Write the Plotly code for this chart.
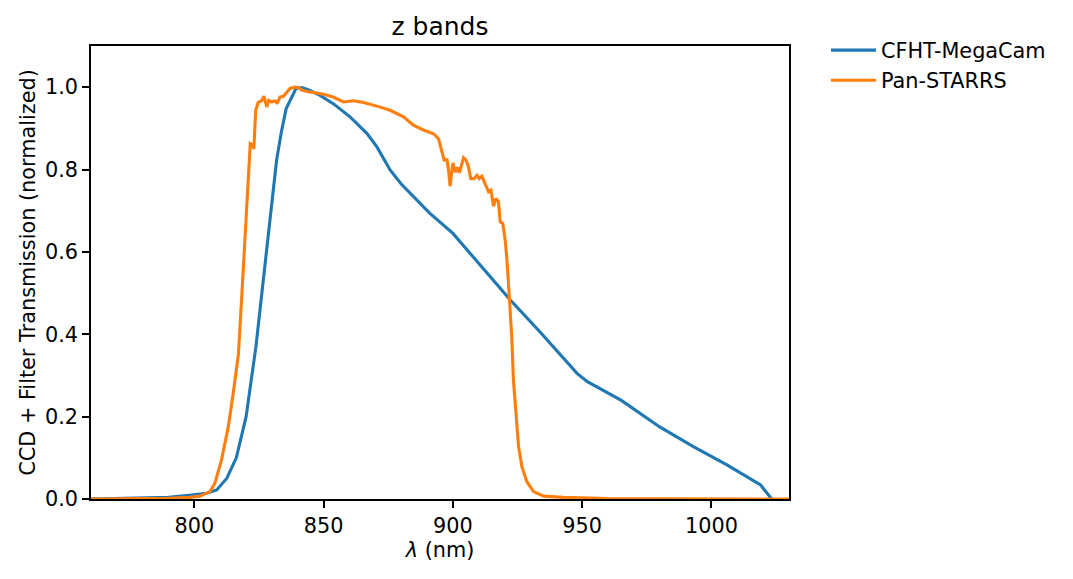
import plotly.graph_objects as go

# CFHT-MegaCam z band
cfht_wl = [760, 770, 780, 790, 798, 804.7, 808.6, 812.5, 816.2, 820,
           823.8, 826.4, 829, 831.8, 833.6, 835.5, 837.6, 839.3, 841.5, 844,
           848.6, 853.7, 860.2, 866.7, 870.6, 875.7, 880, 891, 900, 910.6,
           922.2, 933.8, 941.5, 948, 952, 965, 980, 993, 1006, 1019,
           1023.3]
cfht_tr = [0.0, 0.001, 0.002, 0.004, 0.009, 0.014, 0.022, 0.05, 0.1, 0.20,
           0.37, 0.515, 0.66, 0.823, 0.89, 0.948, 0.975, 0.997, 0.999, 0.994,
           0.98, 0.96, 0.928, 0.888, 0.855, 0.799, 0.765, 0.694, 0.645, 0.568,
           0.483, 0.405, 0.35, 0.305, 0.285, 0.24, 0.175, 0.127, 0.083, 0.034,
           0.0]

# Pan-STARRS z band
ps_wl = [760, 770, 780, 790, 798.3, 802.1, 806, 807.9, 810.5, 813.1,
         815, 817, 818.3, 819.6, 820.7, 821.6, 822.4, 823, 823.7, 824.7,
         826, 826.9, 828, 828.8, 829.9, 831.2, 832, 833.1, 834.4, 835.7,
         837, 838.9, 840.2, 841.5, 844, 847.3, 849.9, 853.7, 857.6, 861.5,
         865.4, 870.6, 875.7, 880.9, 884.7, 888.6, 892.5, 894.4, 895.7, 896.6,
         897.7, 898.3, 898.9, 900, 900.9, 901.8, 902.5, 904.1, 905.1, 906,
         906.9, 908.2, 909.3, 910.2, 911.2, 912.5, 913.8, 914.7, 915.7, 916.6,
         917.6, 918.3, 919.3, 920.2, 920.9, 921.9, 922.8, 923.4, 924.5, 925.4,
         926.7, 928.6, 931.2, 935.1, 942.7, 960, 980, 1000, 1030]
ps_tr = [0.0, 0.0005, 0.001, 0.002, 0.004, 0.007, 0.018, 0.038, 0.095, 0.175,
         0.256, 0.35, 0.49, 0.64, 0.79, 0.863, 0.86, 0.85, 0.944, 0.963,
         0.967, 0.978, 0.952, 0.968, 0.964, 0.967, 0.96, 0.976, 0.978, 0.989,
         0.997, 1.0, 0.999, 0.993, 0.989, 0.986, 0.983, 0.976, 0.964, 0.967,
         0.963, 0.954, 0.944, 0.928, 0.908, 0.896, 0.887, 0.875, 0.843, 0.823,
         0.824, 0.799, 0.76, 0.816, 0.794, 0.805, 0.792, 0.829, 0.823, 0.807,
         0.778, 0.778, 0.786, 0.778, 0.784, 0.766, 0.746, 0.75, 0.711, 0.73,
         0.722, 0.673, 0.669, 0.629, 0.58, 0.483, 0.386, 0.289, 0.192, 0.127,
         0.078, 0.042, 0.018, 0.007, 0.004, 0.001, 0.0005, 0.0003, 0.0]

x_ticks = [800, 850, 900, 950, 1000]
y_ticks = [0.0, 0.2, 0.4, 0.6, 0.8, 1.0]
y_tick_labels = ["0.0", "0.2", "0.4", "0.6", "0.8", "1.0"]

FONT = "DejaVu Sans"
FS = 20.8

fig = go.Figure()
fig.add_trace(go.Scatter(x=cfht_wl, y=cfht_tr, mode="lines", name="CFHT-MegaCam",
                         line=dict(color="#1f77b4", width=3.1)))
fig.add_trace(go.Scatter(x=ps_wl, y=ps_tr, mode="lines", name="Pan-STARRS",
                         line=dict(color="#ff7f0e", width=3.1)))

axis_common = dict(showline=True, mirror=True, linecolor="black", linewidth=1.67,
                   ticks="outside", ticklen=7, tickwidth=1.67, tickcolor="black",
                   showgrid=False, zeroline=False,
                   tickfont=dict(family=FONT, size=FS, color="black"))

fig.update_xaxes(range=[760, 1030], tickvals=x_ticks,
                 title=dict(text="<i>λ</i> (nm)", font=dict(family=FONT, size=FS, color="black"), standoff=6),
                 **axis_common)
fig.update_yaxes(range=[0, 1.1], tickvals=y_ticks, ticktext=y_tick_labels,
                 title=dict(text="CCD + Filter Transmission (normalized)",
                            font=dict(family=FONT, size=FS, color="black"), standoff=4),
                 **axis_common)

fig.update_layout(
    width=1073, height=579,
    margin=dict(l=91, r=284, t=46, b=80),
    paper_bgcolor="white", plot_bgcolor="white",
    font=dict(family=FONT, size=FS, color="black"),
    title=dict(text="z bands", x=(91 + 789) / 2 / 1073, xanchor="center",
               y=1 - 26 / 579, yanchor="middle", yref="container",
               font=dict(family=FONT, size=25, color="black")),
    legend=dict(x=1.053, xanchor="left", y=1.035, yanchor="top",
                itemwidth=45,
                font=dict(family=FONT, size=FS, color="black"),
                bgcolor="rgba(0,0,0,0)", borderwidth=0),
)

fig.write_html("out.html")
